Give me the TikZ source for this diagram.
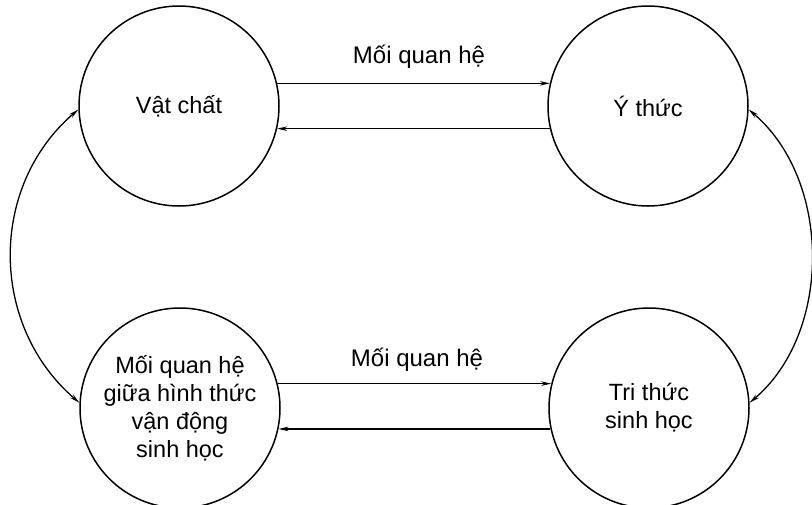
\documentclass[tikz,border=0pt]{standalone}
\usepackage{fontspec}
\setmainfont{Liberation Sans}
\usetikzlibrary{arrows.meta,calc}
\begin{document}
\begin{tikzpicture}[x=1pt,y=-1pt,
  state/.style={circle,draw,line width=1.5pt,minimum size=200pt,inner sep=0pt,
    font=\fontsize{23.5}{28}\selectfont,align=center},
  tip/.tip={Stealth[length=10pt,width=4.5pt]},
  link/.style={line width=1.1pt,-tip},
  side/.style={line width=1.3pt,tip-tip},
  lbl/.style={font=\fontsize{24}{28}\selectfont,inner sep=0pt}]
\useasboundingbox (0,0) rectangle (812,504);
\node[state] (A) at (179,106) {Vật chất};
\node[state] (B) at (648,106) {Ý thức};
\node[state] (C) at (180,408) {Mối quan hệ\\giữa hình thức\\vận động\\sinh học};
\node[state] (D) at (649,408) {Tri thức\\sinh học};
\draw[link] (A.13) -- (B.167);
\draw[link] (B.193) -- (A.-13);
\draw[link] (C.14) -- (D.166);
\draw[link] (D.192) -- (C.-12);
\node[lbl,anchor=base] (L1) at (419,63) {Mối quan hệ};
\node[lbl,anchor=base] (L2) at (417,366) {Mối quan hệ};
\draw[side] (A.182) .. controls ($(A.182)+(-90,77)$) and ($(C.177)+(-90,-77)$) .. (C.177);
\draw[side] (B.-2) .. controls ($(B.-2)+(83,70)$) and ($(D.3)+(83,-70)$) .. (D.3);
\end{tikzpicture}
\end{document}
